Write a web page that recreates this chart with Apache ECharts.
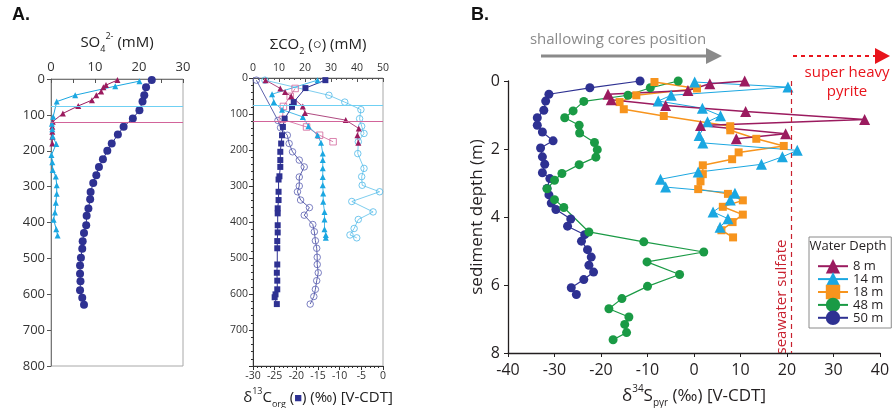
<!DOCTYPE html>
<html><head><meta charset="utf-8">
<script src="https://cdn.jsdelivr.net/npm/echarts@6/dist/echarts.min.js"></script>
<style>html,body{margin:0;padding:0;background:#fff}#c{width:892px;height:408px}</style>
</head><body><div id="c"></div>
<script>
// ---------- Panel A (left): SO4 (mM) vs depth (cm) ----------
const so4_50m_depth = [3,23,45,63,87,110,133,155,180,200,224,245,268,290,315,335,361,381,408,429,452,473,498,520,543,564,589,610,629];
const so4_50m_val   = [22.9,21.6,21.2,20.8,20.1,18.6,16.5,15.2,13.8,12.8,11.8,10.9,10.3,9.6,9.0,8.9,8.5,8.1,8.0,7.5,7.2,7.1,6.8,6.6,6.6,6.7,6.6,7.1,7.5];
const so4_14m_depth = [6,20,45,63,105,125,140,160,181,212,232,254,272,296,320,345,372,392,419,436];
const so4_14m_val   = [20.1,14.6,5.5,1.3,0.5,0.2,0.3,0.4,1.2,0.1,0.3,0.4,1.1,1.3,1.3,1.1,0.9,0.6,1.2,1.5];
const so4_8m_depth  = [3,17,23,35,45,59,75,96,119,133,147,161,180];
const so4_8m_val    = [15.1,12.5,11.9,11.4,10.3,9.3,6.2,2.7,0.4,0.3,0.3,0.3,0.3];
const smtz14m = 75, smtz8m = 121;

// ---------- Panel A (middle): ΣCO2 (mM, top) and δ13C (‰, bottom) ----------
const d13c_50m_depth = [6,28,67,80,113,136,159,182,205,228,247,273,282,316,339,362,376,409,429,453,473,518,541,563,587,601,609,628];
const d13c_50m_val   = [-13.3,-17.9,-20.6,-21.0,-22.7,-23.1,-23.3,-23.5,-23.7,-23.7,-23.7,-23.9,-24.1,-24.1,-24.1,-24.3,-24.3,-24.3,-24.3,-24.4,-24.4,-24.4,-24.5,-24.4,-24.4,-24.8,-25.0,-24.5];
const dic_50m_depth  = [6,118,138,159,182,205,228,247,275,300,316,339,360,381,407,427,452,473,498,518,541,563,587,607,628];
const dic_50m_val    = [1.3,9.6,10.6,13.2,13.9,15.2,17.8,19.7,17.8,17.8,17.1,18.3,21.7,19.7,23.0,23.6,24.0,24.5,24.7,24.7,25.1,24.5,24.0,23.4,22.0];
const dic_14m_depth  = [6,48,67,88,113,134,154,177,210,251,274,298,316,343,372,393,418,436,444];
const dic_14m_val    = [4.6,29.2,35.3,41.5,41.0,41.8,42.7,40.5,40.3,42.7,41.8,42.0,48.7,38.0,46.2,40.5,38.9,37.3,39.9];
const d13c_14m_depth = [6,45,67,88,108,134,159,180,210,228,251,275,298,321,344,372,393,420,436,444];
const d13c_14m_val   = [-15.1,-25.6,-25.2,-23.3,-18.5,-17.2,-15.1,-14.3,-13.9,-13.9,-13.9,-13.9,-13.9,-13.8,-13.8,-13.5,-13.5,-13.5,-13.2,-13.2];
const d13c_8m_depth  = [6,29,39,51,79,97,117,140,159,180];
const d13c_8m_val    = [-27.1,-23.7,-22.6,-21.2,-18.5,-18.0,-8.6,-5.6,-5.9,-5.7];
const dic_8m_depth   = [29,51,79,115,136,159,177];
const dic_8m_val     = [16.2,14.3,11.7,11.3,20.6,25.6,30.8];

// ---------- Panel B: δ34S pyrite (‰) vs sediment depth (m) ----------
const b8_depth  = [0.0,0.08,0.28,0.39,0.55,0.72,0.9,1.13,1.31,1.55,1.7];
const b8_val    = [10.9,3.4,-1.3,-18.5,-17.8,-6.1,11.1,36.7,1.4,19.7,9.1];
const b14_depth = [0.03,0.18,0.42,0.59,0.8,1.02,1.2,1.6,1.82,2.04,2.23,2.45,2.68,2.89,3.12,3.3,3.5,3.85,4.05,4.3];
const b14_val   = [0.15,20.2,-4.9,-7.7,1.8,5.7,2.9,1.1,1.9,22.2,19.0,14.5,0.9,-7.2,-6.1,8.8,7.8,4.1,7.3,5.6];
const b18_depth = [0.03,0.22,0.42,0.62,0.83,1.03,1.33,1.45,1.7,1.91,2.1,2.3,2.48,2.74,2.95,3.18,3.32,3.51,3.7,3.93,4.15,4.39,4.6];
const b18_val   = [-8.5,0.65,-12.4,-16.0,-15.1,-6.5,7.8,7.8,13.4,19.3,9.6,8.2,1.9,1.9,1.4,0.9,7.3,10.5,6.2,10.5,8.3,5.9,8.4];
const b48_depth = [0.0,0.2,0.42,0.6,0.88,1.08,1.3,1.53,1.81,2.02,2.24,2.46,2.72,2.92,3.17,3.49,3.72,4.44,4.73,5.03,5.32,5.69,6.04,6.4,6.7,6.94,7.16,7.4,7.61];
const b48_val   = [-3.4,-9.4,-14.2,-23.7,-26.0,-27.8,-24.7,-24.6,-21.4,-20.8,-21.1,-24.7,-28.4,-30.0,-31.6,-30.0,-28.0,-22.6,-10.8,2.1,-10.1,-3.1,-10.0,-15.5,-18.3,-14.0,-14.9,-14.5,-17.4];
const b50_depth = [0.0,0.2,0.39,0.59,0.86,1.08,1.3,1.5,1.76,1.97,2.23,2.45,2.7,2.87,3.16,3.35,3.59,3.78,4.06,4.27,4.52,4.71,4.96,5.18,5.42,5.62,5.84,6.08,6.28];
const b50_val   = [-11.6,-22.4,-31.2,-31.9,-32.3,-33.7,-33.7,-32.6,-30.3,-33.0,-32.6,-32.1,-32.6,-31.0,-31.6,-31.2,-30.7,-29.7,-26.5,-27.2,-23.5,-24.2,-22.9,-22.1,-22.6,-21.6,-23.7,-26.4,-25.3];
const seawaterD34S = 21;
const legendNames = ['8 m','14 m','18 m','48 m','50 m'];

const NAVY='#2e3192', GREEN='#1a9a45', ORANGE='#f7941d', CYAN='#1ba7e1', MAROON='#9b1b5f', PINK='#d2649a', CYANL='#6fd0f3', RED='#c8202e';
const FONT = '"Open Sans", "Noto Sans", sans-serif';
const pairs = (v, d) => v.map((x, i) => [x, d[i]]);

function ser(name, xi, yi, vals, depths, symbol, size, color, lw, extra) {
  return Object.assign({
    type: 'line', name, xAxisIndex: xi, yAxisIndex: yi, data: pairs(vals, depths),
    symbol, symbolSize: size, showSymbol: true,
    itemStyle: { color }, lineStyle: { color, width: lw }, emphasis: { disabled: true }, animation: false
  }, extra || {});
}
function hline(val, color) {
  return { silent: true, symbol: 'none', label: { show: false }, lineStyle: { color, width: 1, type: 'solid' }, data: [{ yAxis: val }] };
}
function openSer(name, vals, depths, symbol, stroke, lineColor, extra) {
  return ser(name, 1, 1, vals, depths, symbol, 6.5, stroke, 0.8, Object.assign({
    itemStyle: { color: 'rgba(255,255,255,0)', borderColor: stroke, borderWidth: 0.8 },
    lineStyle: { color: lineColor, width: 0.8 }
  }, extra || {}));
}

const chart = echarts.init(document.getElementById('c'));
const axTxt = (sz) => ({ fontFamily: FONT, fontSize: sz, color: '#333' });

chart.setOption({
  backgroundColor: '#fff',
  animation: false,
  textStyle: { fontFamily: FONT },
  grid: [
    { left: 51, top: 79, width: 132, height: 287, show: true, borderColor: '#a8a8a8', borderWidth: 1, outerBoundsMode: 'none', containLabel: false },
    { left: 253, top: 78, width: 130, height: 288, show: true, borderColor: '#a8a8a8', borderWidth: 1, outerBoundsMode: 'none', containLabel: false },
    { left: 508, top: 81, width: 372, height: 272, outerBoundsMode: 'none', containLabel: false }
  ],
  xAxis: [
    { gridIndex: 0, type: 'value', position: 'top', min: 0, max: 30, interval: 10,
      axisLine: { show: true, onZero: false, lineStyle: { color: '#777' } },
      axisTick: { inside: true, length: 4, lineStyle: { color: '#555' } },
      minorTick: { show: true, splitNumber: 2, length: 4, lineStyle: { color: '#555' } },
      splitLine: { show: false }, axisLabel: Object.assign(axTxt(13), { margin: 5 }),
      name: '{n|SO}{sb|4}{sp|2-}{n| (mM)}', nameLocation: 'middle', nameGap: 25,
      nameTextStyle: { rich: {
        n: { fontFamily: FONT, fontSize: 15, color: '#222', lineHeight: 22 },
        sb: { fontFamily: FONT, fontSize: 9, color: '#222', lineHeight: 22, verticalAlign: 'bottom' },
        sp: { fontFamily: FONT, fontSize: 9, color: '#222', lineHeight: 22, verticalAlign: 'top' } } } },
    { gridIndex: 1, type: 'value', position: 'top', min: 0, max: 50, interval: 10,
      axisLine: { show: true, onZero: false, lineStyle: { color: '#555' } },
      axisTick: { inside: true, length: 4, lineStyle: { color: '#555' } },
      minorTick: { show: true, splitNumber: 5, length: 2, lineStyle: { color: '#555' } },
      splitLine: { show: false }, axisLabel: Object.assign(axTxt(10.5), { margin: 4 }),
      name: '{n|ΣCO}{sb|2}{n| (○) (mM)}', nameLocation: 'middle', nameGap: 22,
      nameTextStyle: { rich: {
        n: { fontFamily: FONT, fontSize: 15, color: '#222', lineHeight: 22 },
        sb: { fontFamily: FONT, fontSize: 9, color: '#222', lineHeight: 22, verticalAlign: 'bottom' } } } },
    { gridIndex: 1, type: 'value', position: 'bottom', min: -30, max: 0, interval: 5,
      axisLine: { show: true, onZero: false, lineStyle: { color: '#333' } },
      axisTick: { inside: false, length: 4, lineStyle: { color: '#333' } },
      minorTick: { show: true, splitNumber: 5, length: 2, lineStyle: { color: '#333' } },
      splitLine: { show: false }, axisLabel: Object.assign(axTxt(10.5), { margin: 5 }),
      name: '{n|δ}{sp|13}{n|C}{sb|org}{n| (}{sq|■}{n|) (‰) [V-CDT]}', nameLocation: 'middle', nameGap: 18,
      nameTextStyle: { rich: {
        n: { fontFamily: FONT, fontSize: 15, color: '#222', lineHeight: 22 },
        sq: { fontFamily: FONT, fontSize: 13, color: NAVY, lineHeight: 22 },
        sb: { fontFamily: FONT, fontSize: 9, color: '#222', lineHeight: 22, verticalAlign: 'bottom' },
        sp: { fontFamily: FONT, fontSize: 9, color: '#222', lineHeight: 22, verticalAlign: 'top' } } } },
    { gridIndex: 2, type: 'value', position: 'bottom', min: -40, max: 40, interval: 10,
      axisLine: { show: true, onZero: false, lineStyle: { color: '#231f20', width: 1.3 } },
      axisTick: { show: true, length: 4, lineStyle: { color: '#231f20' } },
      splitLine: { show: false }, axisLabel: Object.assign(axTxt(16), { margin: 9, color: '#231f20' }),
      name: '{n|δ}{sp|34}{n|S}{sb|pyr}{n| (‰) [V-CDT]}', nameLocation: 'middle', nameGap: 31,
      nameTextStyle: { rich: {
        n: { fontFamily: FONT, fontSize: 17, color: '#231f20', lineHeight: 24 },
        sb: { fontFamily: FONT, fontSize: 10, color: '#231f20', lineHeight: 24, verticalAlign: 'bottom' },
        sp: { fontFamily: FONT, fontSize: 10, color: '#231f20', lineHeight: 24, verticalAlign: 'top' } } } }
  ],
  yAxis: [
    { gridIndex: 0, type: 'value', inverse: true, min: 0, max: 800, interval: 100,
      axisLine: { show: true, onZero: false, lineStyle: { color: '#777' } },
      axisTick: { show: true, length: 4, lineStyle: { color: '#555' } },
      splitLine: { show: false }, axisLabel: Object.assign(axTxt(13), { margin: 6 }) },
    { gridIndex: 1, type: 'value', inverse: true, min: 0, max: 800, interval: 100,
      axisLine: { show: true, onZero: false, lineStyle: { color: '#333' } },
      axisTick: { show: true, length: 4, lineStyle: { color: '#333' } },
      minorTick: { show: true, splitNumber: 5, length: 2, lineStyle: { color: '#333' } },
      splitLine: { show: false },
      axisLabel: Object.assign(axTxt(10.5), { margin: 5, formatter: v => v === 800 ? '' : v }) },
    { gridIndex: 2, type: 'value', inverse: true, min: 0, max: 8, interval: 2,
      axisLine: { show: true, onZero: false, lineStyle: { color: '#231f20', width: 1.3 } },
      axisTick: { show: true, length: 4, lineStyle: { color: '#231f20' } },
      splitLine: { show: false }, axisLabel: Object.assign(axTxt(16), { margin: 8, color: '#231f20' }),
      name: 'sediment depth (m)', nameLocation: 'middle', nameGap: 22,
      nameTextStyle: { fontFamily: FONT, fontSize: 17, color: '#231f20' } }
  ],
  legend: {
    data: legendNames, orient: 'vertical', left: 809, top: 237,
    padding: [22, 8, 3, 8], itemGap: -1.5, itemWidth: 30, itemHeight: 18,
    backgroundColor: '#fff', borderColor: '#8a8a8a', borderWidth: 1,
    textStyle: { fontFamily: FONT, fontSize: 13, color: '#231f20', width: 30, align: 'right' },
    selectedMode: false
  },
  graphic: [
    { type: 'text', left: 12, top: 6, style: { text: 'A.', font: 'bold 18px "Liberation Sans", Arial, sans-serif', fill: '#111' } },
    { type: 'text', left: 471, top: 6, style: { text: 'B.', font: 'bold 18px "Liberation Sans", Arial, sans-serif', fill: '#111' } },
    { type: 'text', x: 618, y: 40, style: { text: 'shallowing cores position', font: '15px ' + FONT, fill: '#8a8a8a', align: 'center', verticalAlign: 'middle' } },
    { type: 'line', shape: { x1: 541, y1: 56, x2: 709, y2: 56 }, style: { stroke: '#8a8a8a', lineWidth: 3 } },
    { type: 'polygon', shape: { points: [[706, 48], [722, 56], [706, 64]] }, style: { fill: '#8a8a8a' } },
    { type: 'line', shape: { x1: 793, y1: 56, x2: 876, y2: 56 }, style: { stroke: '#e8141c', lineWidth: 2, lineDash: [4, 4] } },
    { type: 'polygon', shape: { points: [[875, 48], [890, 56], [875, 64]] }, style: { fill: '#e8141c' } },
    { type: 'text', x: 847, y: 73, style: { text: 'super heavy', font: '15px ' + FONT, fill: '#e8141c', align: 'center', verticalAlign: 'middle' } },
    { type: 'text', x: 847, y: 92, style: { text: 'pyrite', font: '15px ' + FONT, fill: '#e8141c', align: 'center', verticalAlign: 'middle' } },
    { type: 'text', x: 782, y: 297, rotation: Math.PI / 2, style: { text: 'seawater sulfate', font: '15px ' + FONT, fill: RED, align: 'center', verticalAlign: 'middle' } },
    { type: 'text', x: 848, y: 246, z: 100, style: { text: 'Water Depth', font: '13px ' + FONT, fill: '#231f20', align: 'center', verticalAlign: 'middle' } }
  ],
  series: [
    // Panel A left
    ser('SO4 8m', 0, 0, so4_8m_val, so4_8m_depth, 'triangle', 6, MAROON, 1, { markLine: hline(smtz8m, PINK) }),
    ser('SO4 14m', 0, 0, so4_14m_val, so4_14m_depth, 'triangle', 6, CYAN, 1, { markLine: hline(smtz14m, CYANL) }),
    ser('SO4 50m', 0, 0, so4_50m_val, so4_50m_depth, 'circle', 8, NAVY, 1),
    // Panel A middle
    openSer('DIC 50m', dic_50m_val, dic_50m_depth, 'circle', '#5a5fb2', '#353a95', { markLine: hline(smtz8m, PINK) }),
    openSer('DIC 14m', dic_14m_val, dic_14m_depth, 'circle', '#4fb9e8', '#5cc0ea', { markLine: hline(smtz14m, CYANL) }),
    openSer('DIC 8m', dic_8m_val, dic_8m_depth, 'rect', PINK, PINK),
    ser('d13C 14m', 2, 1, d13c_14m_val, d13c_14m_depth, 'triangle', 6, CYAN, 0.8),
    ser('d13C 8m', 2, 1, d13c_8m_val, d13c_8m_depth, 'triangle', 6, MAROON, 0.8),
    ser('d13C 50m', 2, 1, d13c_50m_val, d13c_50m_depth, 'rect', 6, NAVY, 1),
    // Panel B
    ser('50 m', 3, 2, b50_val, b50_depth, 'circle', 9, NAVY, 1.2, { markLine: { silent: true, symbol: 'none', label: { show: false }, lineStyle: { color: RED, width: 1.2, type: [5, 4] }, data: [{ xAxis: seawaterD34S }] } }),
    ser('48 m', 3, 2, b48_val, b48_depth, 'circle', 9, GREEN, 1.2),
    ser('18 m', 3, 2, b18_val, b18_depth, 'rect', 8, ORANGE, 1.5),
    ser('14 m', 3, 2, b14_val, b14_depth, 'triangle', 11, CYAN, 1),
    ser('8 m', 3, 2, b8_val, b8_depth, 'triangle', 11, MAROON, 1.5)
  ]
});
</script></body></html>
